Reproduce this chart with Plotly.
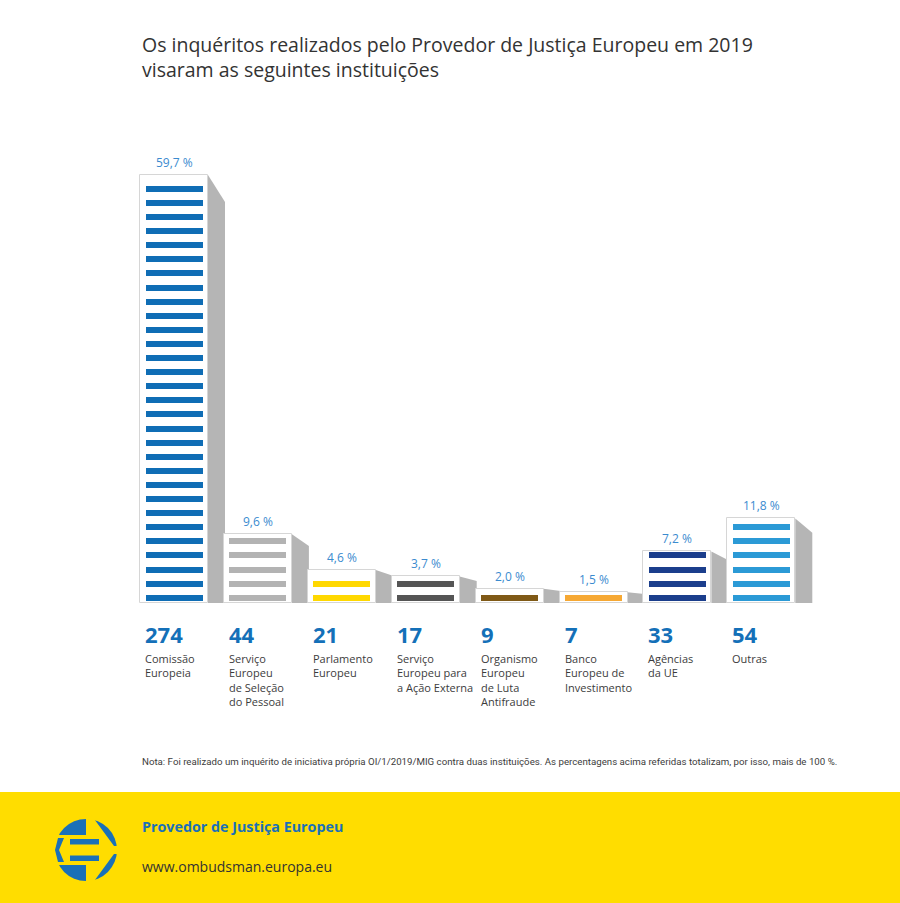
import plotly.graph_objects as go

# ---------------- data ----------------
categories = [
    "Comissão<br>Europeia",
    "Serviço<br>Europeu<br>de Seleção<br>do Pessoal",
    "Parlamento<br>Europeu",
    "Serviço<br>Europeu para<br>a Ação Externa",
    "Organismo<br>Europeu<br>de Luta<br>Antifraude",
    "Banco<br>Europeu de<br>Investimento",
    "Agências<br>da UE",
    "Outras",
]
counts = [274, 44, 21, 17, 9, 7, 33, 54]
percents = [59.7, 9.6, 4.6, 3.7, 2.0, 1.5, 7.2, 11.8]
percent_labels = ["59,7 %", "9,6 %", "4,6 %", "3,7 %", "2,0 %", "1,5 %", "7,2 %", "11,8 %"]
stripe_colors = ["#0f6db5", "#b3b3b3", "#ffd800", "#555555", "#7f5916", "#f6a833", "#1b3e8c", "#2b9ad6"]

title_text = ("Os inquéritos realizados pelo Provedor de Justiça Europeu em 2019<br>"
              "visaram as seguintes instituições")
note_text = ("Nota: Foi realizado um inquérito de iniciativa própria OI/1/2019/MIG contra duas instituições. "
             "As percentagens acima referidas totalizam, por isso, mais de 100 %.")
footer_title = "Provedor de Justiça Europeu"
footer_url = "www.ombudsman.europa.eu"

# ---------------- layout constants (pixels) ----------------
W, H = 900, 903
BASE_PX = 603          # pixel row of the 0 % baseline
TOP_PX = 175           # pixel row of the tallest bar top
PX_PER_PCT = (BASE_PX - TOP_PX) / max(percents)
X0_PX = 174            # centre of first bar
STEP_PX = 83.9         # distance between bar centres
BAR_W_PX = 68
STRIPE_W_PX = 57
STRIPE_H_PX = 6
STRIPE_GAP_PX = 14.1
STRIPE_FIRST_PX = 5.3
SHADOW_DX_PX = 17

def ux(px):  # pixel length -> x units
    return px / STEP_PX

def uy(px):  # pixel length -> y units
    return px / PX_PER_PCT

def ydata(py):  # pixel row -> y data
    return (BASE_PX - py) / PX_PER_PCT

def pyp(py):  # pixel row -> paper
    return 1 - py / H

def pxp(px):
    return px / W

n = len(categories)
xs = list(range(n))
bw = ux(BAR_W_PX)
sw = ux(STRIPE_W_PX)

fig = go.Figure()

# white bar bodies
fig.add_trace(go.Bar(
    x=xs, y=percents, width=[bw] * n,
    marker=dict(color="white", line=dict(color="#d6d6d6", width=1)),
    hoverinfo="skip", showlegend=False,
))

# stripes
sx, sbase, sh, scol = [], [], [], []
for i, p in enumerate(percents):
    hpx = p * PX_PER_PCT
    k = 0
    while True:
        c = STRIPE_FIRST_PX + STRIPE_GAP_PX * k
        if c + STRIPE_H_PX / 2 > hpx:
            break
        sx.append(i)
        sbase.append(uy(c - STRIPE_H_PX / 2))
        sh.append(uy(STRIPE_H_PX))
        scol.append(stripe_colors[i])
        k += 1
fig.add_trace(go.Bar(
    x=sx, y=sh, base=sbase, width=[sw] * len(sx),
    marker=dict(color=scol, line=dict(width=0)),
    hoverinfo="skip", showlegend=False,
))

shapes = []
# 3D side shadows
for i, p in enumerate(percents):
    hpx = p * PX_PER_PCT
    drop = uy(min(0.17 * hpx, 27))
    xr = i + bw / 2
    xe = xr + ux(SHADOW_DX_PX)
    path = f"M {xr},{p} L {xe},{p - drop} L {xe},0 L {xr},0 Z"
    shapes.append(dict(type="path", path=path, xref="x", yref="y",
                       fillcolor="#b5b5b5", line=dict(width=0), layer="below"))

# footer band
shapes.append(dict(type="rect", xref="paper", yref="paper", x0=0, x1=1,
                   y0=0, y1=pyp(792), fillcolor="#ffdd00", line=dict(width=0), layer="below"))

# logo
LOGO_BLUE = "#1a70b8"
YEL = "#ffdd00"
cx, cy, r = 86, 850, 31

def P(pts):
    return "M " + " L ".join(f"{pxp(a)},{pyp(b)}" for a, b in pts) + " Z"

shapes.append(dict(type="circle", xref="paper", yref="paper",
                   x0=pxp(cx - r), x1=pxp(cx + r), y0=pyp(cy + r), y1=pyp(cy - r),
                   fillcolor=LOGO_BLUE, line=dict(width=0)))
# inner wedge (arrow) and right gap
shapes.append(dict(type="path", xref="paper", yref="paper", line=dict(width=0), fillcolor=YEL,
                   path=P([(86, 812), (89, 812), (114, 846), (125, 846), (125, 854), (114, 854),
                           (89, 888), (86, 888)])))
# left band
shapes.append(dict(type="rect", xref="paper", yref="paper", line=dict(width=0), fillcolor=YEL,
                   x0=pxp(50), x1=pxp(89), y0=pyp(865), y1=pyp(835)))
# E bars
for y0, y1 in [(839, 844.5), (855.5, 861)]:
    shapes.append(dict(type="rect", xref="paper", yref="paper", line=dict(width=0), fillcolor=LOGO_BLUE,
                       x0=pxp(70), x1=pxp(99), y0=pyp(y1), y1=pyp(y0)))
# left chevron
shapes.append(dict(type="path", xref="paper", yref="paper", line=dict(width=0), fillcolor=LOGO_BLUE,
                   path=P([(58, 838), (64, 838), (59, 850), (64, 862), (58, 862), (55, 850)])))

annotations = []
for i in range(n):
    # percent labels
    annotations.append(dict(x=i, y=percents[i] + uy(12.5), xref="x", yref="y",
                            text=percent_labels[i], showarrow=False,
                            font=dict(family="Open Sans", size=12, color="#3b8bcf"),
                            xanchor="center", yanchor="middle"))
    # counts
    annotations.append(dict(x=i - bw / 2, y=ydata(634), xref="x", yref="y", xshift=3,
                            text=f"<b>{counts[i]}</b>", showarrow=False,
                            font=dict(family="Open Sans", size=22, color="#1470b8"),
                            xanchor="left", yanchor="middle"))
    # category names
    annotations.append(dict(x=i - bw / 2, y=ydata(649), xref="x", yref="y", xshift=3,
                            text=categories[i], showarrow=False, align="left",
                            font=dict(family="Open Sans", size=11, color="#3c3c3c"),
                            xanchor="left", yanchor="top"))

annotations.append(dict(x=pxp(140), y=pyp(57.5), xref="paper", yref="paper", text=title_text,
                        showarrow=False, align="left", xanchor="left", yanchor="middle",
                        font=dict(family="Open Sans", size=19.5, color="#333333")))
annotations.append(dict(x=pxp(140), y=pyp(761), xref="paper", yref="paper", text=note_text,
                        showarrow=False, align="left", xanchor="left", yanchor="middle",
                        font=dict(family="Liberation Sans Narrow, Roboto", size=9.7, color="#3c3c3c")))
annotations.append(dict(x=pxp(140), y=pyp(826), xref="paper", yref="paper", text=f"<b>{footer_title}</b>",
                        showarrow=False, align="left", xanchor="left", yanchor="middle",
                        font=dict(family="Open Sans", size=14.3, color="#1a70b8")))
annotations.append(dict(x=pxp(140), y=pyp(866), xref="paper", yref="paper", text=footer_url,
                        showarrow=False, align="left", xanchor="left", yanchor="middle",
                        font=dict(family="Open Sans", size=14, color="#333333")))

fig.update_layout(
    width=W, height=H, autosize=False,
    margin=dict(l=0, r=0, t=0, b=0, pad=0),
    paper_bgcolor="white", plot_bgcolor="white",
    barmode="overlay", bargap=0,
    xaxis=dict(range=[-X0_PX / STEP_PX, (W - X0_PX) / STEP_PX], visible=False, fixedrange=True),
    yaxis=dict(range=[ydata(H), ydata(0)], visible=False, fixedrange=True),
    shapes=shapes, annotations=annotations,
    showlegend=False,
)

fig.write_html("out.html")
